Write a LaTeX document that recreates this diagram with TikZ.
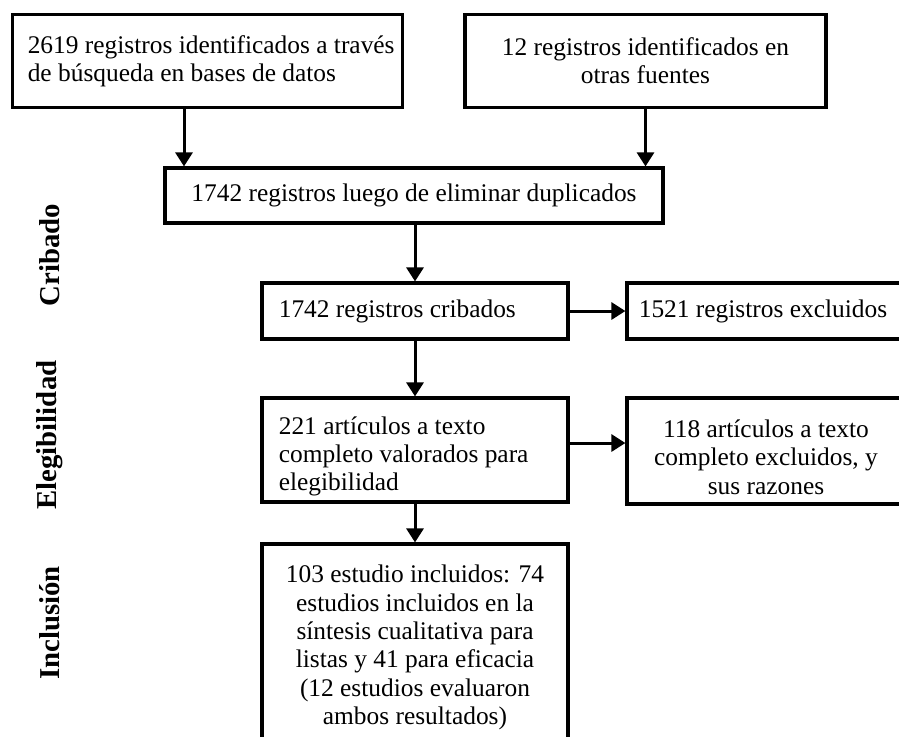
\documentclass[tikz,border=0pt]{standalone}
\usepackage{fontspec}
\setmainfont{Liberation Serif}
\usepackage{tikz}
\usetikzlibrary{arrows.meta,positioning,fit,calc}

\newcommand{\boxfont}{\fontsize{12.7pt}{14.15pt}\selectfont}
\newcommand{\phasefont}{\fontsize{14.4pt}{16pt}\selectfont\bfseries}

\begin{document}
\begin{tikzpicture}[x=0.5pt, y=-0.5pt,
	flowbox/.style={draw, line width=1.6pt, inner sep=0pt},
	boxtext/.style={inner sep=0pt, font=\boxfont},
	phase/.style={rotate=90, inner sep=0pt, font=\phasefont},
	flowarrow/.style={-{Triangle[width=8.5pt,length=7pt]}, line width=1.5pt}]

	\path[use as bounding box, fill=white] (0,0) rectangle (899,736);
	\clip (0,0) rectangle (899,736);

	% phase labels
	\node[phase] (cribado) at (50,255) {Cribado};
	\node[phase] (elegib) at (50,435) {Elegibilidad};
	\node[phase] (inclus) at (50,623) {Inclusión};

	% boxes
	\node[flowbox, fit={(12.5,14.5) (402.5,107.5)}] (srcdb) {};
	\node[flowbox, fit={(465,14.5) (826,107.5)}] (srcoth) {};
	\node[flowbox, fit={(165,168) (663,223)}] (dedup) {};
	\node[flowbox, fit={(262,283) (568,339)}] (screened) {};
	\node[flowbox, fit={(627,283) (920,339)}] (screenex) {};
	\node[flowbox, fit={(262,398) (568,502)}] (fulltext) {};
	\node[flowbox, fit={(627,398) (905,504)}] (fullex) {};
	\node[flowbox, fit={(262,544) (568,751)}] (incl) {};

	% box texts
	\node[boxtext, align=left, right=8.25pt of srcdb.west] (srcdbtxt) {2619 registros identificados a través\\de búsqueda en bases de datos};
	\node[boxtext, align=center] (srcothtxt) at (srcoth) {12 registros identificados en\\otras fuentes};
	\node[boxtext] (deduptxt) at (dedup) {1742 registros luego de eliminar duplicados};
	\node[boxtext, right=9pt of screened.west] (screenedtxt) {1742 registros cribados};
	\node[boxtext, right=6.5pt of screenex.west] (screenextxt) {1521 registros excluidos};
	\node[boxtext, align=left, right=9pt of fulltext.west, yshift=-3.25pt] (fulltexttxt) {221 artículos a texto\\completo valorados para\\elegibilidad};
	\node[boxtext, align=center, yshift=-3pt] (fullextxt) at (fullex) {118 artículos a texto\\completo excluidos, y\\sus razones};
	\node[boxtext, align=center] (incltxt) at (incl) {103 estudio incluidos: 74\\estudios incluidos en la\\síntesis cualitativa para\\listas y 41 para eficacia\\(12 estudios evaluaron\\ambos resultados)};

	% arrows
	\coordinate (leftcol) at (184,0);
	\coordinate (fullarrow) at ([yshift=3.5pt]fulltext.east);
	\draw[flowarrow] (srcdb.south -| leftcol) -- (dedup.north -| leftcol);
	\draw[flowarrow] (srcoth.south) -- (srcoth.south |- dedup.north);
	\draw[flowarrow] (screened.north |- dedup.south) -- (screened.north);
	\draw[flowarrow] (screened.east) -- (screened.east -| screenex.west);
	\draw[flowarrow] (screened.south) -- (fulltext.north);
	\draw[flowarrow] (fullarrow) -- (fullarrow -| fullex.west);
	\draw[flowarrow] (fulltext.south) -- (incl.north);

\end{tikzpicture}
\end{document}
